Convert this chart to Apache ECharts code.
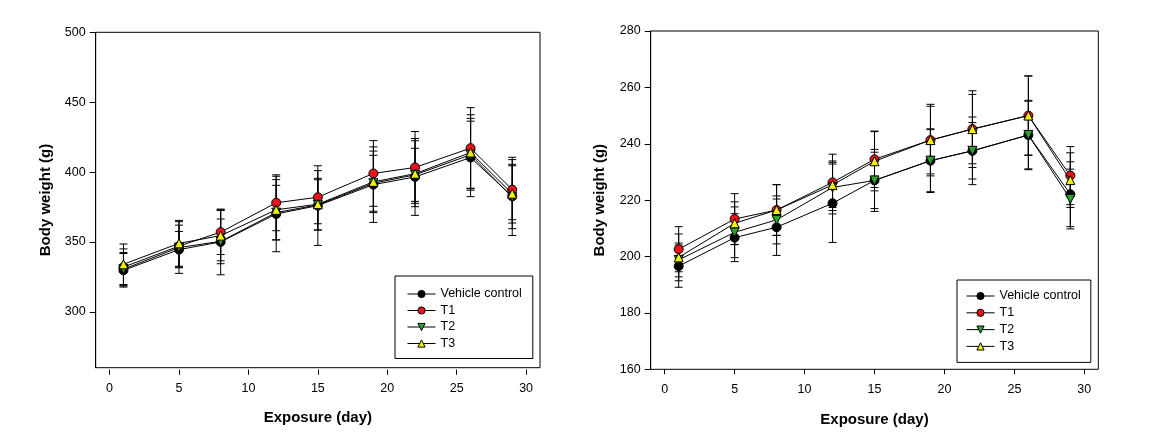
<!DOCTYPE html>
<html>
<head>
<meta charset="utf-8">
<script src="https://cdn.jsdelivr.net/npm/echarts@6/dist/echarts.min.js"></script>
<style>
html,body{margin:0;padding:0;background:#fff;}
#c{width:1152px;height:440px;}
</style>
</head>
<body>
<div id="c"></div>
<script>
const days = [1, 5, 8, 12, 15, 19, 22, 26, 29];
const seriesNames = ['Vehicle control', 'T1', 'T2', 'T3'];
const xTicks = [0, 5, 10, 15, 20, 25, 30];
const leftYTicks = [300, 350, 400, 450, 500];
const rightYTicks = [160, 180, 200, 220, 240, 260, 280];

// Left panel means
const leftV  = [329.7, 344.5, 350.0, 370.0, 376.0, 391.0, 396.5, 410.4, 382.6];
const leftT1 = [332.0, 347.0, 357.0, 378.0, 382.0, 399.0, 403.3, 417.1, 387.4];
const leftT2 = [330.5, 346.0, 350.4, 371.0, 376.5, 392.0, 398.0, 412.4, 382.0];
const leftT3 = [334.0, 349.0, 354.5, 373.0, 377.0, 393.0, 398.8, 414.0, 384.5];
// Left panel SD
const leftVsd  = [12, 13, 23.5, 27, 28.5, 27, 27.5, 28, 28];
const leftT1sd = [13, 15, 16, 20, 19, 23.5, 25.7, 29, 21.5];
const leftT2sd = [12, 18.5, 16, 19.5, 18, 20, 19, 24, 22.5];
const leftT3sd = [14.5, 16.4, 18, 21.6, 18.5, 22, 23.6, 27, 21];

// Right panel means
const rightV  = [196.6, 206.7, 210.4, 218.9, 227.0, 234.0, 237.5, 243.1, 222.1];
const rightT1 = [202.6, 213.3, 216.5, 226.3, 234.5, 241.3, 245.2, 250.0, 228.7];
const rightT2 = [198.8, 208.6, 213.0, 224.5, 227.0, 234.0, 237.5, 243.1, 220.4];
const rightT3 = [199.7, 211.8, 216.5, 225.4, 233.8, 241.3, 245.2, 250.0, 227.1];
// Right panel SD
const rightVsd  = [7.5, 8.5, 10, 13.9, 11, 11.3, 12, 12.3, 11.5];
const rightT1sd = [8, 9, 9, 10, 10, 12.7, 13.6, 14.1, 10.3];
const rightT2sd = [6, 9, 8.5, 9.4, 10, 11, 10, 12, 10.6];
const rightT3sd = [8.3, 7.6, 9, 8, 10.5, 12, 12.3, 14, 9.7];

const FONT = "'Liberation Sans', Arial, sans-serif";
const colors = ['#000000', '#e8131b', '#2aa52a', '#f2f200'];
const symbols = ['circle', 'circle', 'triangle', 'triangle'];
const rotates = [0, 0, 180, 0];

function renderErr(params, api) {
  const x = api.value(0), m = api.value(1), s = api.value(2);
  const top = api.coord([x, m + s]);
  const bot = api.coord([x, m - s]);
  const w = 4;
  const st = { stroke: '#000', lineWidth: 1 };
  return {
    type: 'group',
    children: [
      { type: 'line', shape: { x1: top[0], y1: top[1], x2: bot[0], y2: bot[1] }, style: st },
      { type: 'line', shape: { x1: top[0] - w, y1: top[1], x2: top[0] + w, y2: top[1] }, style: st },
      { type: 'line', shape: { x1: bot[0] - w, y1: bot[1], x2: bot[0] + w, y2: bot[1] }, style: st }
    ]
  };
}

function buildPanel(idx, means, sds) {
  const out = [];
  means.forEach((m, i) => {
    out.push({
      type: 'custom',
      name: 'err' + idx + '_' + i,
      xAxisIndex: idx, yAxisIndex: idx,
      renderItem: renderErr,
      encode: { x: 0, y: 1 },
      data: days.map((d, j) => [d, m[j], sds[i][j]]),
      z: 1, silent: true
    });
  });
  means.forEach((m, i) => {
    out.push({
      type: 'line',
      name: seriesNames[i],
      xAxisIndex: idx, yAxisIndex: idx,
      data: days.map((d, j) => [d, m[j]]),
      symbol: symbols[i],
      symbolRotate: rotates[i],
      symbolSize: 9,
      showAllSymbol: true,
      lineStyle: { color: '#000', width: 1 },
      itemStyle: { color: colors[i], borderColor: '#000', borderWidth: 1 },
      z: 3 + i,
      animation: false
    });
  });
  return out;
}

function xAxis(idx, off) {
  return {
    type: 'value', gridIndex: idx, min: -1, max: 31, offset: off,
    axisLine: { show: false, onZero: false },
    axisTick: { show: true, length: 5, customValues: xTicks, lineStyle: { color: '#000' } },
    axisLabel: { customValues: xTicks, fontFamily: FONT, fontSize: 12.5, color: '#000', margin: 14 - off },
    splitLine: { show: false },
    name: 'Exposure (day)', nameLocation: 'middle', nameGap: 43 - off,
    nameTextStyle: { fontFamily: FONT, fontSize: 15, fontWeight: 'bold', color: '#000' }
  };
}
function yAxis(idx, min, max, ticks, gap) {
  return {
    type: 'value', gridIndex: idx, min: min, max: max,
    axisLine: { show: true, onZero: false, lineStyle: { color: '#000' } },
    axisTick: { show: true, length: 6, customValues: ticks, lineStyle: { color: '#000' } },
    axisLabel: { customValues: ticks, fontFamily: FONT, fontSize: 12.5, color: '#000', margin: 10 },
    splitLine: { show: false },
    name: 'Body weight (g)', nameLocation: 'middle', nameGap: gap, nameRotate: 90,
    nameTextStyle: { fontFamily: FONT, fontSize: 15, fontWeight: 'bold', color: '#000' }
  };
}

const legendBase = {
  orient: 'vertical',
  data: seriesNames,
  borderColor: '#000', borderWidth: 1,
  itemWidth: 28, itemHeight: 9,
  itemGap: 2.5,
  lineStyle: { width: 1, color: '#000' },
  itemStyle: { borderWidth: 1, borderColor: '#000' },
  textStyle: { fontFamily: FONT, fontSize: 12.5, color: '#000', lineHeight: 14 },
  selectedMode: false,
  backgroundColor: '#fff'
};

const option = {
  animation: false,
  backgroundColor: '#fff',
  grid: [
    { left: 95.7, top: 32.3, width: 444.3, height: 335.4, show: true, borderColor: '#000', borderWidth: 1, backgroundColor: 'transparent' },
    { left: 650.7, top: 31, width: 447.6, height: 338.3, show: true, borderColor: '#000', borderWidth: 1, backgroundColor: 'transparent' }
  ],
  xAxis: [xAxis(0, 2), xAxis(1, 0)],
  yAxis: [yAxis(0, 260, 500, leftYTicks, 42), yAxis(1, 160, 280, rightYTicks, 43)],
  legend: [
    Object.assign({}, legendBase, { left: 395, top: 276, padding: [11, 11, 8, 12], itemGap: 2.5 }),
    Object.assign({}, legendBase, { left: 957, top: 280, padding: [9, 10, 9, 9], itemGap: 2.8 })
  ],
  series: [].concat(
    buildPanel(0, [leftV, leftT1, leftT2, leftT3], [leftVsd, leftT1sd, leftT2sd, leftT3sd]),
    buildPanel(1, [rightV, rightT1, rightT2, rightT3], [rightVsd, rightT1sd, rightT2sd, rightT3sd])
  )
};

const chart = echarts.init(document.getElementById('c'), null, { renderer: 'canvas' });
chart.setOption(option);
</script>
</body>
</html>
